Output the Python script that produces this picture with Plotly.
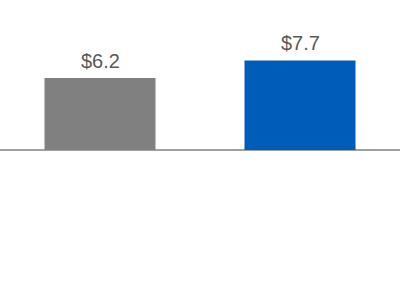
import plotly.graph_objects as go

categories = ["A", "B"]
values = [6.2, 7.7]
labels = ["$6.2", "$7.7"]
colors = ["#808080", "#005CB9"]

fig = go.Figure()
fig.add_trace(go.Bar(
    x=categories, y=values, marker_color=colors, width=0.555,
    marker_line_width=0, hoverinfo="skip",
))
for c, v, t in zip(categories, values, labels):
    fig.add_annotation(x=c, y=v, text=t, showarrow=False, yanchor="bottom",
                       yshift=4, font=dict(family="Liberation Sans, Arial", size=20, color="#595959"))

fig.update_layout(
    width=400, height=300, margin=dict(l=0, r=0, t=0, b=0),
    paper_bgcolor="white", plot_bgcolor="white", showlegend=False,
    xaxis=dict(visible=False, range=[-0.5, 1.5]),
    yaxis=dict(range=[-12.9, 12.9], showgrid=False, showticklabels=False,
               zeroline=True, zerolinecolor="#A0A0A0", zerolinewidth=2),
)
fig.write_html("out.html")
